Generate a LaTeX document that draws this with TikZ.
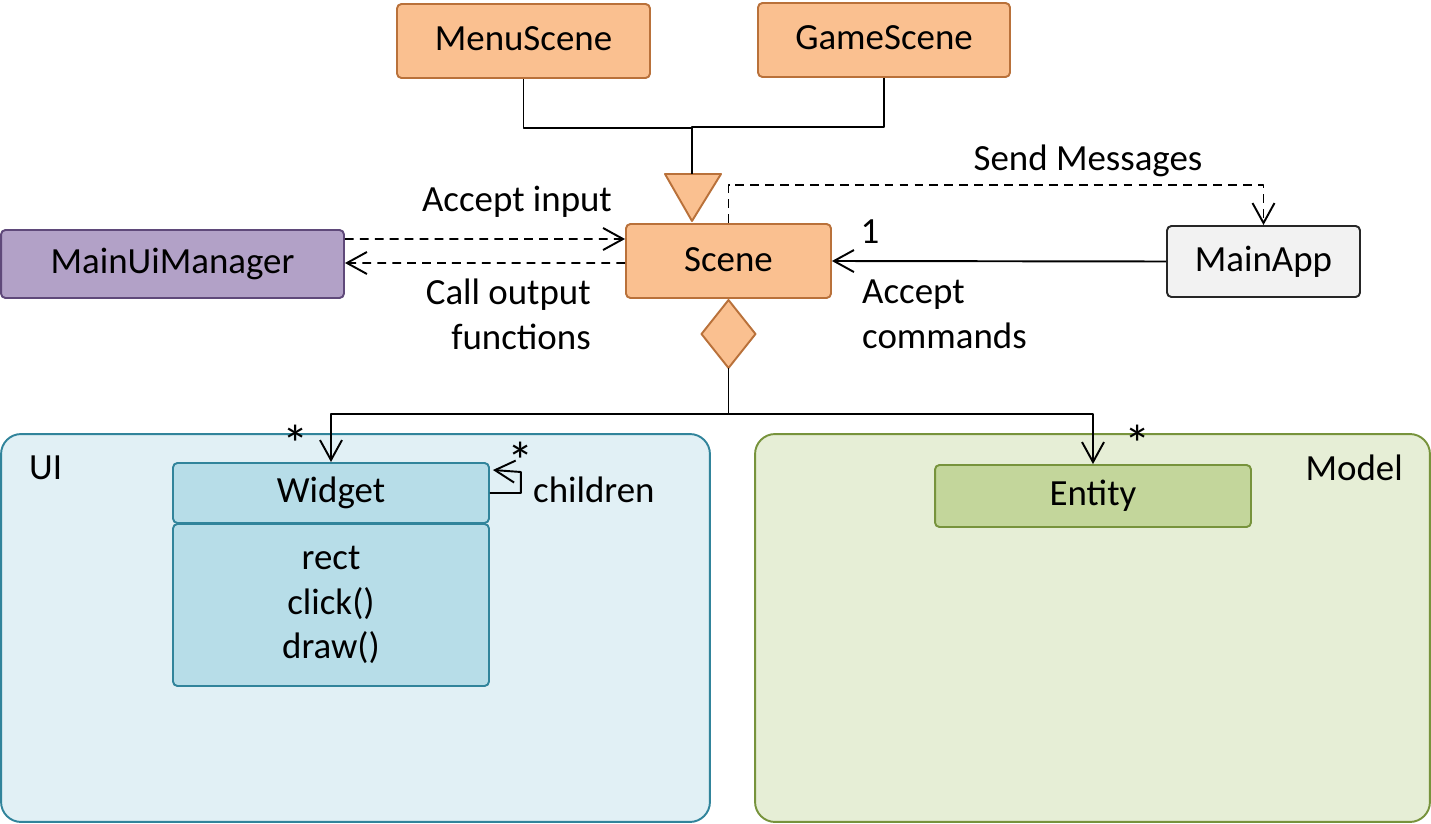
\documentclass[tikz,border=0pt]{standalone}
\usepackage{fontspec}
\setmainfont{Carlito}
\usetikzlibrary{arrows.meta}
\definecolor{sceneFill}{HTML}{FAC090}
\definecolor{sceneLine}{HTML}{B9713A}
\definecolor{mgrFill}{HTML}{B2A1C7}
\definecolor{mgrLine}{HTML}{5F497A}
\definecolor{appFill}{HTML}{F2F2F2}
\definecolor{appLine}{HTML}{262626}
\definecolor{uiFill}{HTML}{E1F0F5}
\definecolor{uiLine}{HTML}{31849B}
\definecolor{widgetFill}{HTML}{B7DDE8}
\definecolor{modelFill}{HTML}{E6EED6}
\definecolor{modelLine}{HTML}{77933C}
\definecolor{entityFill}{HTML}{C3D69B}
\begin{document}
\begin{tikzpicture}[x=0.02cm, y=-0.02cm, line join=round, font=\fontsize{21}{25.5}\selectfont,
		box/.style={draw, line width=1.1pt, rounded corners=2.5pt, inner sep=0pt, minimum height=1.48cm},
		scenebox/.style={box, fill=sceneFill, draw=sceneLine},
		container/.style={draw, line width=1.1pt, rounded corners=0.4cm, minimum width=#1, minimum height=7.76cm},
		dep/.style={line width=1.1pt, dash pattern=on 5pt off 3.5pt, -{Straight Barb[length=4mm, width=4.4mm]}},
		assoc/.style={line width=1.1pt, -{Straight Barb[length=4mm, width=4.4mm]}},
		plain/.style={line width=1.1pt},
		mult/.style={font=\fontsize{30}{30}\selectfont, inner sep=0pt}]
	\useasboundingbox (0,0) rectangle (1431,824);
	\node[container=14.18cm, fill=uiFill, draw=uiLine] (ui) at (355.5,628) {};
	\node[container=13.5cm, fill=modelFill, draw=modelLine] (model) at (1092.5,628) {};
	\node[anchor=west] (uilabel) at (23,468) {UI};
	\node[anchor=east] (modellabel) at (1409,468) {Model};
	\node[scenebox, minimum width=5.06cm] (menu) at (523.5,41) {\raisebox{3pt}{MenuScene}};
	\node[scenebox, minimum width=5.04cm] (game) at (884,40) {\raisebox{3pt}{GameScene}};
	\node[scenebox, minimum width=4.1cm] (scene) at (728.5,261) {\raisebox{2pt}{Scene}};
	\node[box, fill=mgrFill, draw=mgrLine, minimum width=6.86cm, minimum height=1.36cm] (mgr) at (172.5,264) {\raisebox{1pt}{MainUiManager}};
	\node[box, fill=appFill, draw=appLine, minimum width=3.86cm, minimum height=1.42cm] (app) at (1263.5,261.5) {MainApp};
	\node[box, fill=widgetFill, draw=uiLine, minimum width=6.32cm, minimum height=1.2cm] (widget) at (331,493) {\raisebox{-2pt}{Widget}};
	\node[box, fill=widgetFill, draw=uiLine, minimum width=6.32cm, minimum height=3.24cm, align=center] (body) at (331,605) {rect\\click()\\draw()};
	\node[box, fill=entityFill, draw=modelLine, minimum width=6.32cm, minimum height=1.24cm] (entity) at (1093,496) {Entity};
	\coordinate (tri) at (692,174);
	\coordinate (dia) at (728.5,368);
	\filldraw[fill=sceneFill, draw=sceneLine, line width=1.1pt] (665,174) -- (721,174) -- (692,221) -- cycle;
	\filldraw[fill=sceneFill, draw=sceneLine, line width=1.1pt] (728.5,300) -- (755.5,334) -- (728.5,368) -- (701.5,334) -- cycle;
	\draw[plain] (menu.south) -- ++(0,49) -| (tri);
	\draw[plain] (game.south) -- ++(0,49) -| (tri);
	\draw[dep] ([yshift=0.5cm]mgr.east) -- ([yshift=0.44cm]scene.west);
	\draw[dep] ([yshift=-0.04cm]scene.west) -- ([yshift=0.02cm]mgr.east);
	\draw[dep] (scene.north) -- ++(0,-38) -| (app.north);
	\draw[assoc] (app.west) -- (scene.east);
	\draw[assoc] (dia) -- ++(0,46) -| (widget.north);
	\draw[assoc] (dia) -- ++(0,46) -| (entity.north);
	\draw[assoc] (widget.east) -- ++(31,0) -- ++(0,-21) -- ([xshift=0.06cm,yshift=0.46cm]widget.east);
	\node (accin) at (517,202) {Accept input};
	\node[anchor=east, align=right] (callout) at (597,314) {Call output\\functions};
	\node (sendmsg) at (1088,161) {Send Messages};
	\node (one) at (870,232) {1};
	\node[anchor=west, align=left] (acccmd) at (856,314) {Accept\\commands};
	\node[mult] (wstar) at (296,444) {*};
	\node[mult] (estar) at (1138,444) {*};
	\node[mult] (cstar) at (521,461) {*};
	\node[anchor=west] (children) at (527,490) {children};
\end{tikzpicture}
\end{document}
